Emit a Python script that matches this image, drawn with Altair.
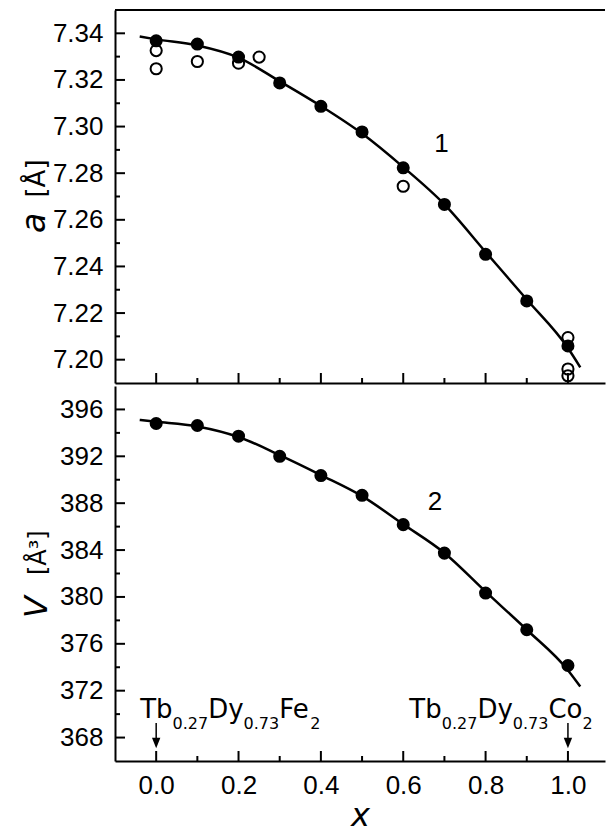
import altair as alt
import pandas as pd

# ---------------- data ----------------
x_pts = [0.0, 0.1, 0.2, 0.3, 0.4, 0.5, 0.6, 0.7, 0.8, 0.9, 1.0]
a_filled = [7.3368, 7.3354, 7.3298, 7.3187, 7.3087, 7.2977, 7.2823, 7.2666, 7.2452, 7.2252, 7.2059]
a_open_x = [0.0, 0.0, 0.1, 0.2, 0.25, 0.6, 1.0, 1.0, 1.0]
a_open_y = [7.3326, 7.3248, 7.3279, 7.3272, 7.3298, 7.2744, 7.2095, 7.1960, 7.1931]
a_fit_x = [-0.04, 0.0, 0.1, 0.2, 0.3, 0.4, 0.5, 0.6, 0.7, 0.8, 0.9, 1.0, 1.03]
a_fit_y = [7.3386, 7.3374, 7.3348, 7.3296, 7.3194, 7.3088, 7.2970, 7.2826, 7.2666, 7.2462, 7.2258, 7.2050, 7.1967]

V_filled = [394.80, 394.63, 393.72, 392.00, 390.36, 388.67, 386.17, 383.74, 380.33, 377.20, 374.15]
V_fit_x = [-0.04, 0.0, 0.1, 0.2, 0.3, 0.4, 0.5, 0.6, 0.7, 0.8, 0.9, 1.0, 1.03]
V_fit_y = [395.10, 394.95, 394.55, 393.65, 392.10, 390.40, 388.60, 386.20, 383.75, 380.45, 377.20, 373.75, 372.35]

# tick values / labels
x_major = [0.0, 0.2, 0.4, 0.6, 0.8, 1.0]
x_minor = [0.1, 0.3, 0.5, 0.7, 0.9]
a_major = [7.20, 7.22, 7.24, 7.26, 7.28, 7.30, 7.32, 7.34]
a_minor = [7.21, 7.23, 7.25, 7.27, 7.29, 7.31, 7.33]
V_major = [368, 372, 376, 380, 384, 388, 392, 396]
V_minor = [370, 374, 378, 382, 386, 390, 394]

# curve labels
curve_labels = ["1", "2"]
curve_label_x = [0.693, 0.677]
curve_label_y = [7.2927, 388.14]

# compound annotations (pieces: text, is_subscript)
formula_left = [("Tb", False), ("0.27", True), ("Dy", False), ("0.73", True), ("Fe", False), ("2", True)]
formula_right = [("Tb", False), ("0.27", True), ("Dy", False), ("0.73", True), ("Co", False), ("2", True)]
formula_x = [0.0, 1.0]
formula_y = 369.65
arrow_top_y = 369.25
arrow_head_y = 367.54

# ---------------- layout/style ----------------
W, H1, H2 = 490, 373, 375
FONT = "Liberation Sans"
WIDE = "DejaVu Sans"
MAIN_FS, SUB_FS = 26, 16

xs = alt.Scale(domain=[-0.1, 1.09], nice=False, zero=False)
ys_a = alt.Scale(domain=[7.19, 7.35], nice=False, zero=False)
ys_V = alt.Scale(domain=[366, 398], nice=False, zero=False)

common_axis = dict(ticks=False, tickSize=0, grid=False, domainColor="black", domainWidth=2,
                   labelColor="black", labelFont=FONT, labelFontSize=26)
ax_x_top = alt.Axis(labels=False, title=None, **{k: v for k, v in common_axis.items() if not k.startswith("label")})
ax_x_bot = alt.Axis(values=x_major, format=".1f", labelPadding=11, title="x",
                    titleFont=WIDE, titleFontStyle="italic", titleFontSize=32,
                    titleFontWeight="normal", titleColor="black", titlePadding=2, **common_axis)
ax_y_a = alt.Axis(values=a_major, format=".2f", labelPadding=12, title=None, **common_axis)
ax_y_V = alt.Axis(values=V_major, format="d", labelPadding=12, title=None, **common_axis)


def X(field, axis):
    return alt.X(field, type="quantitative", scale=xs, axis=axis)


def panel(ys, ax_y, ax_x, H, ymajor, yminor, filled_df, open_df, fit_df, lab_df, titles, extra=None):
    def Y(field):
        return alt.Y(field, type="quantitative", scale=ys, axis=ax_y)

    layers = []
    if open_df is not None:
        layers.append(alt.Chart(open_df).mark_point(shape="circle", filled=False, size=125,
                                                    strokeWidth=2, color="black", opacity=1)
                      .encode(x=X("x", ax_x), y=Y("y")))
    layers.append(alt.Chart(fit_df).mark_line(color="black", strokeWidth=2.5, interpolate="monotone")
                  .encode(x=X("x", ax_x), y=Y("y")))
    layers.append(alt.Chart(filled_df).mark_circle(size=170, color="black", opacity=1)
                  .encode(x=X("x", ax_x), y=Y("y")))
    # inward ticks
    layers.append(alt.Chart(pd.DataFrame({"v": ymajor})).mark_rule(color="black", strokeWidth=2)
                  .encode(y=Y("v"), x=alt.value(0), x2=alt.value(10)))
    layers.append(alt.Chart(pd.DataFrame({"v": yminor})).mark_rule(color="black", strokeWidth=2)
                  .encode(y=Y("v"), x=alt.value(0), x2=alt.value(5)))
    layers.append(alt.Chart(pd.DataFrame({"v": x_major})).mark_rule(color="black", strokeWidth=2)
                  .encode(x=X("v", ax_x), y=alt.value(H - 10), y2=alt.value(H)))
    layers.append(alt.Chart(pd.DataFrame({"v": x_minor})).mark_rule(color="black", strokeWidth=2)
                  .encode(x=X("v", ax_x), y=alt.value(H - 5), y2=alt.value(H)))
    # invisible anchor fixing the left extent
    layers.append(alt.Chart(pd.DataFrame({"v": [0]})).mark_rule(opacity=0, strokeOpacity=0)
                  .encode(x=alt.value(-115), x2=alt.value(-113), y=alt.value(0)))
    # curve label
    layers.append(alt.Chart(lab_df).mark_text(font=FONT, fontSize=26, color="black", align="center",
                                              baseline="middle")
                  .encode(x=X("x", ax_x), y=Y("y"), text="t:N"))
    # y titles
    for txt, style, fs, px, py in titles:
        layers.append(alt.Chart(pd.DataFrame({"t": [txt]})).mark_text(
            font=WIDE, fontSize=fs, fontStyle=style, angle=270, align="center",
            baseline="alphabetic", color="black")
            .encode(text="t:N", x=alt.value(px), y=alt.value(py)))
    if extra:
        layers += extra(Y)
    return alt.layer(*layers).properties(width=W, height=H)


# widths (em) of DejaVu Sans glyphs, used to lay the formula pieces side by side
ADV = {"T": 0.611, "b": 0.635, "D": 0.770, "y": 0.592, "F": 0.575, "e": 0.615, "C": 0.698,
       "o": 0.612, "0": 0.636, ".": 0.318, "2": 0.636, "7": 0.636, "3": 0.636}


def piece_offsets(pieces, start):
    out = []
    pos = start
    for txt, sub in pieces:
        fs = SUB_FS if sub else MAIN_FS
        out.append((txt, sub, pos))
        pos += sum(ADV[c] for c in txt) * fs
    return out, pos - start


def extra_bottom(Y):
    lay = []
    total_right = piece_offsets(formula_right, 0)[1]
    for fx, pieces, start in [(formula_x[0], formula_left, -16.0),
                              (formula_x[1], formula_right, 24.7 - total_right)]:
        offs, _ = piece_offsets(pieces, start)
        for txt, sub, dx in offs:
            lay.append(alt.Chart(pd.DataFrame({"x": [fx], "y": [formula_y], "t": [txt]}))
                       .mark_text(font=WIDE, fontSize=SUB_FS if sub else MAIN_FS, align="left",
                                  baseline="alphabetic", dx=dx, dy=10.7 if sub else 0, color="black")
                       .encode(x=X("x", ax_x_bot), y=Y("y"), text="t:N"))
    arr = pd.DataFrame({"x": formula_x, "y": [arrow_top_y] * 2, "y2": [arrow_head_y] * 2})
    lay.append(alt.Chart(arr).mark_rule(color="black", strokeWidth=1.5)
               .encode(x=X("x", ax_x_bot), y=Y("y"), y2="y2"))
    lay.append(alt.Chart(arr).mark_point(shape="M-0.8,-1L0.8,-1L0,1Z", size=110, filled=True,
                                         color="black", opacity=1, strokeWidth=0)
               .encode(x=X("x", ax_x_bot), y=Y("y2")))
    return lay


def extra_top(Y):
    return [alt.Chart(pd.DataFrame({"v": [0]})).mark_rule(color="black", strokeWidth=2)
            .encode(x=alt.value(0), x2=alt.value(W), y=alt.value(0)),
            alt.Chart(pd.DataFrame({"v": [0]})).mark_rule(opacity=0, strokeOpacity=0)
            .encode(x=alt.value(-115), x2=alt.value(-113), y=alt.value(-10))]


top = panel(ys_a, ax_y_a, ax_x_top, H1, a_major, a_minor,
            pd.DataFrame({"x": x_pts, "y": a_filled}),
            pd.DataFrame({"x": a_open_x, "y": a_open_y}),
            pd.DataFrame({"x": a_fit_x, "y": a_fit_y}),
            pd.DataFrame({"x": [curve_label_x[0]], "y": [curve_label_y[0]], "t": [curve_labels[0]]}),
            [("a", "italic", 33, -70, 213), ("[Å]", "normal", 26, -70, 168.5)],
            extra=extra_top)

bottom = panel(ys_V, ax_y_V, ax_x_bot, H2, V_major, V_minor,
               pd.DataFrame({"x": x_pts, "y": V_filled}),
               None,
               pd.DataFrame({"x": V_fit_x, "y": V_fit_y}),
               pd.DataFrame({"x": [curve_label_x[1]], "y": [curve_label_y[1]], "t": [curve_labels[1]]}),
               [("V", "italic", 32, -68, 221), ("[Å³]", "normal", 24, -69, 166.7)],
               extra=extra_bottom)

chart = (alt.vconcat(top, bottom, spacing=0)
         .properties(padding={"left": 0, "top": 0, "right": 0, "bottom": 2}, background="white")
         .configure_view(stroke=None))

chart.save("out.html", embed_options={"renderer": "svg", "actions": False})
